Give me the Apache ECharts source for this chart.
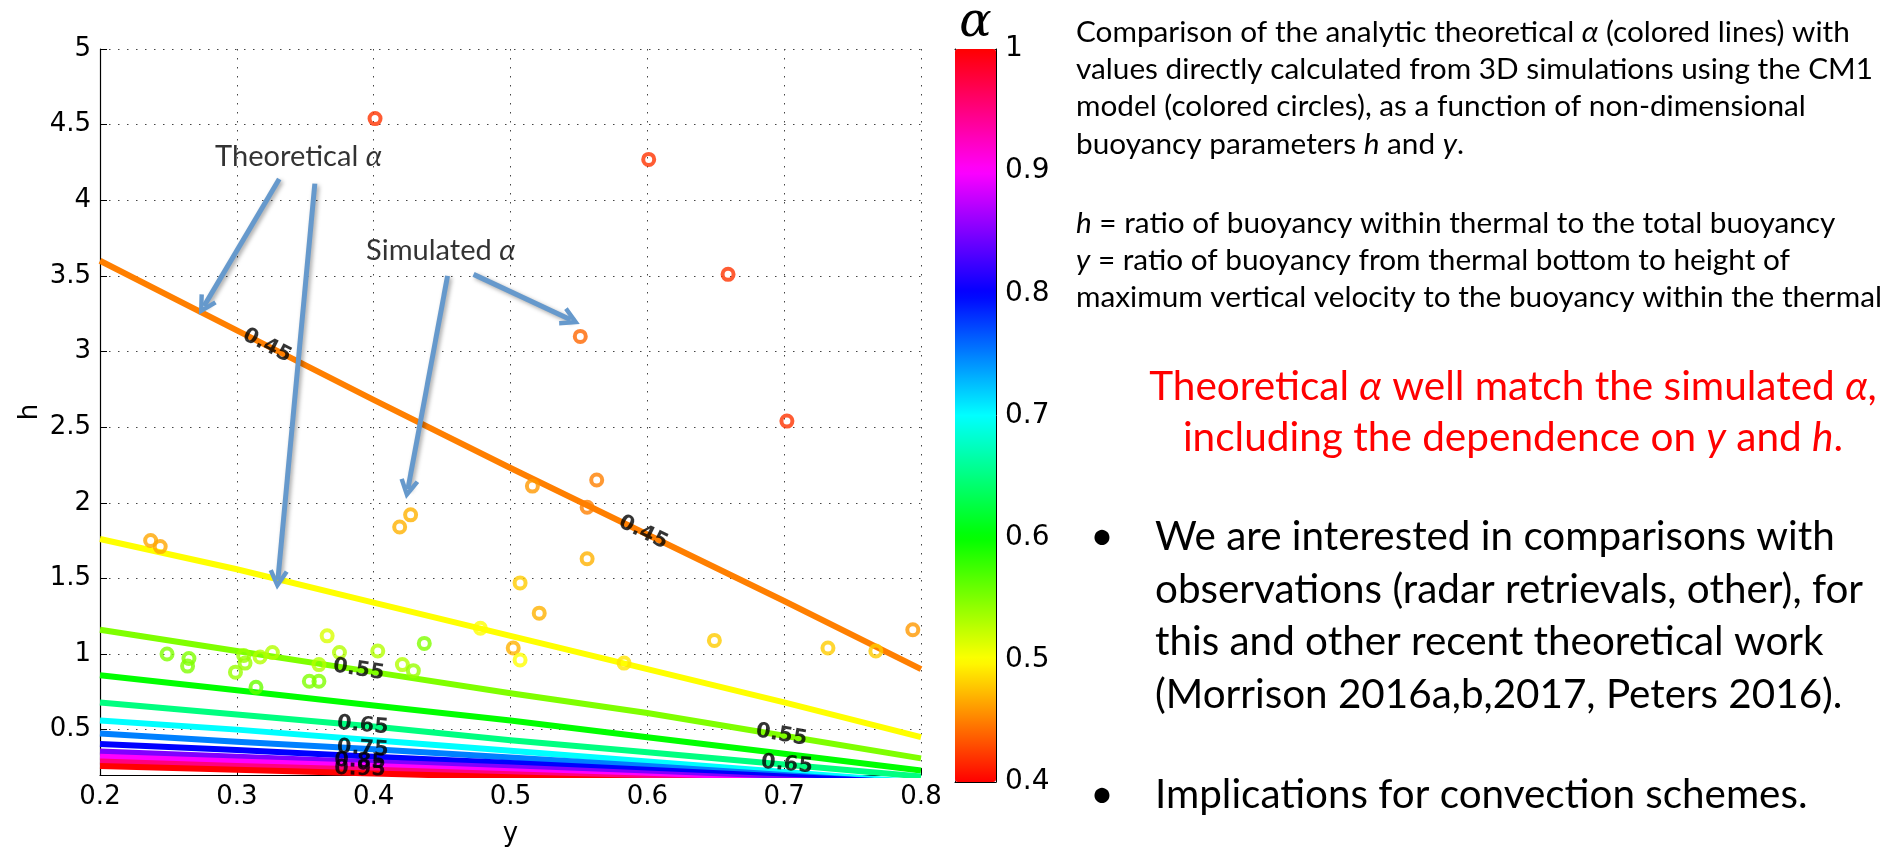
<!DOCTYPE html>
<html>
<head>
<meta charset="utf-8">
<script src="https://cdn.jsdelivr.net/npm/echarts@6/dist/echarts.min.js"></script>
<style>
html,body{margin:0;padding:0;background:#ffffff;}
#chart{width:1895px;height:852px;}
</style>
</head>
<body>
<div id="chart"></div>
<script>
// ---------------- DATA ----------------
// axis ticks
const xTicks = [0.2, 0.3, 0.4, 0.5, 0.6, 0.7, 0.8];
const colorbarTicks = [0.4, 0.5, 0.6, 0.7, 0.8, 0.9, 1];

// simulated alpha (CM1 3D simulations): y, h, alpha
const simY = [0.401, 0.601, 0.659, 0.702, 0.551,
  0.237, 0.244, 0.419, 0.427, 0.516, 0.556, 0.563, 0.556, 0.507, 0.521,
  0.478, 0.502, 0.507, 0.583, 0.649, 0.732, 0.767, 0.794,
  0.366, 0.375, 0.249, 0.265, 0.264, 0.299, 0.305, 0.306, 0.317, 0.326,
  0.314, 0.353, 0.360, 0.360, 0.403, 0.421, 0.429, 0.437];
const simH = [4.54, 4.27, 3.51, 2.54, 3.10,
  1.75, 1.71, 1.84, 1.92, 2.11, 1.97, 2.15, 1.63, 1.47, 1.27,
  1.17, 1.04, 0.96, 0.94, 1.09, 1.04, 1.02, 1.16,
  1.12, 1.01, 1.00, 0.97, 0.92, 0.88, 0.99, 0.94, 0.98, 1.01,
  0.78, 0.82, 0.82, 0.93, 1.02, 0.93, 0.89, 1.07];
const simAlpha = [0.42, 0.42, 0.42, 0.42, 0.44,
  0.465, 0.465, 0.47, 0.47, 0.46, 0.45, 0.45, 0.47, 0.48, 0.47,
  0.50, 0.47, 0.50, 0.49, 0.48, 0.48, 0.48, 0.46,
  0.515, 0.53, 0.55, 0.55, 0.55, 0.54, 0.54, 0.54, 0.53, 0.53,
  0.56, 0.55, 0.55, 0.53, 0.53, 0.53, 0.54, 0.55];

// theoretical alpha contours: h along y for each alpha level
const contourY = [0.2, 0.3, 0.4, 0.5, 0.6, 0.7, 0.8];
const contourLevels = [0.45, 0.5, 0.55, 0.6, 0.65, 0.7, 0.75, 0.8, 0.85, 0.9, 0.95, 1.0];
const h045 = [3.60, 3.14, 2.68, 2.23, 1.79, 1.35, 0.90];
const h050 = [1.76, 1.56, 1.34, 1.12, 0.90, 0.68, 0.45];
const h055 = [1.16, 1.02, 0.88, 0.74, 0.61, 0.46, 0.31];
const h060 = [0.86, 0.76, 0.66, 0.56, 0.45, 0.34, 0.23];
const h065 = [0.68, 0.60, 0.52, 0.43, 0.35, 0.27, 0.19];
const h070 = [0.56, 0.50, 0.43, 0.36, 0.29, 0.22, 0.15];
const h075 = [0.475, 0.42, 0.37, 0.315, 0.26, 0.20, 0.14];
const h080 = [0.405, 0.365, 0.32, 0.28, 0.235, 0.19, 0.145];
const h085 = [0.355, 0.32, 0.285, 0.25, 0.21, 0.17, 0.13];
const h090 = [0.32, 0.29, 0.26, 0.225, 0.19, 0.155, 0.12];
const h095 = [0.29, 0.26, 0.235, 0.205, 0.175, 0.14, 0.11];
const h100 = [0.26, 0.235, 0.21, 0.185, 0.16, 0.13, 0.10];
const contourH = [h045, h050, h055, h060, h065, h070, h075, h080, h085, h090, h095, h100];

// inline contour labels: level and y position along the contour
const labelLevel = [0.45, 0.45, 0.55, 0.55, 0.65, 0.65, 0.75, 0.85, 0.95];
const labelY     = [0.322, 0.597, 0.389, 0.698, 0.392, 0.702, 0.392, 0.390, 0.390];

// annotation arrows (y0, h0 -> y1, h1)
const arrowFromY = [0.331, 0.357, 0.454, 0.473];
const arrowFromH = [4.14, 4.11, 3.50, 3.51];
const arrowToY   = [0.276, 0.330, 0.425, 0.544];
const arrowToH   = [3.30, 1.49, 2.09, 3.21];
const annText = ['Theoretical {a|α}', 'Simulated {a|α}'];
const annY = [0.345, 0.449];
const annH = [4.29, 3.67];

// slide text
const infoText = [
  'Comparison of the analytic theoretical {i|α} (colored lines) with',
  'values directly calculated from 3D simulations using the CM1',
  'model (colored circles), as a function of non-dimensional',
  'buoyancy parameters {i|h} and {i|y}.',
  '{i|h} = ratio of buoyancy within thermal to the total buoyancy',
  '{i|y} = ratio of buoyancy from thermal bottom to height of',
  'maximum vertical velocity to the buoyancy within the thermal'
];
const claimText = [
  'Theoretical {i|α} well match the simulated {i|α},',
  'including the dependence on {i|y} and {i|h}.'
];
const bulletText = [
  'We are interested in comparisons with',
  'observations (radar retrievals, other), for',
  'this and other recent theoretical work',
  '(Morrison 2016a,b,2017, Peters 2016).',
  'Implications for convection schemes.'
];

// ---------------- LAYOUT / STYLE ----------------
const G = {left: 100, top: 49, width: 821, height: 733};
const CB = {left: 955, top: 49, width: 41, height: 733};
const AXIS_FONT = 'DejaVu Sans';
const SLIDE_FONT = 'Lato';
const colormapStops = ['#ff0000', '#ffff00', '#00ff00', '#00ffff', '#0000ff', '#ff00ff', '#ff0000'];
function alphaColor(a) { return echarts.color.lerp((a - 0.4) / 0.6, colormapStops); }

const mctx = document.createElement('canvas').getContext('2d');
function plain(s) { return s.replace(/\{i\|([^}]*)\}/g, '$1').replace(/\{a\|([^}]*)\}/g, '$1'); }
function fitSize(text, target, weight) {
  mctx.font = (weight || 'normal') + ' 100px ' + SLIDE_FONT;
  return 100 * target / mctx.measureText(plain(text)).width;
}
const fsInfo = fitSize(infoText[6], 806);
const fsClaim = fitSize(claimText[0], 731);
const fsBullet = fitSize(bulletText[0], 680);
const fsAnn = fitSize('Theoretical α', 168);

function interp(xs, ys, x) {
  for (let i = 0; i < xs.length - 1; i++) {
    if (x >= xs[i] && x <= xs[i + 1]) {
      const t = (x - xs[i]) / (xs[i + 1] - xs[i]);
      return {v: ys[i] + t * (ys[i + 1] - ys[i]), s: (ys[i + 1] - ys[i]) / (xs[i + 1] - xs[i])};
    }
  }
  return {v: ys[ys.length - 1], s: 0};
}
const pxPerX = G.width / (0.8 - 0.2);
const pxPerH = G.height / (5 - 0.2);

// ---------------- SERIES ----------------
const series = [];
contourLevels.forEach((lev, k) => {
  series.push({
    type: 'line', name: 'alpha ' + lev, xAxisIndex: 0, yAxisIndex: 0,
    data: contourY.map((x, i) => [x, contourH[k][i]]),
    showSymbol: false, symbol: 'none', silent: true, clip: true, z: 2,
    lineStyle: {color: alphaColor(lev), width: 6, cap: 'butt', join: 'round'}
  });
});

series.push({
  type: 'scatter', name: 'simulated', xAxisIndex: 0, yAxisIndex: 0, z: 4, silent: true,
  symbol: 'circle', symbolSize: 11,
  data: simY.map((x, i) => ({
    value: [x, simH[i], simAlpha[i]],
    itemStyle: {color: 'rgba(0,0,0,0)', borderColor: alphaColor(simAlpha[i]), borderWidth: 4}
  }))
});

series.push({
  type: 'scatter', name: 'contour labels', xAxisIndex: 0, yAxisIndex: 0, z: 5, silent: true,
  symbolSize: 1, itemStyle: {color: 'rgba(0,0,0,0)'},
  data: labelLevel.map((lev, i) => {
    const k = contourLevels.indexOf(lev);
    const r = interp(contourY, contourH[k], labelY[i]);
    const rot = Math.atan(r.s * pxPerH / pxPerX) * 180 / Math.PI;
    return {
      name: String(lev), value: [labelY[i], r.v],
      label: {show: true, position: 'inside', formatter: '{b}', rotate: rot,
        fontFamily: AXIS_FONT, fontWeight: 'bold', fontSize: 21, color: '#000'}
    };
  })
});

series.push({
  type: 'lines', coordinateSystem: 'cartesian2d', xAxisIndex: 0, yAxisIndex: 0, z: 8, silent: true,
  symbol: ['none', 'path://M0,18 L10,0 L20,18 L16,20 L10,9 L4,20 Z'], symbolSize: [22, 20],
  lineStyle: {color: '#6699cc', width: 5, opacity: 1, curveness: 0,
    shadowBlur: 4, shadowColor: 'rgba(0,0,0,0.35)', shadowOffsetX: 2, shadowOffsetY: 2},
  data: arrowFromY.map((x, i) => ({coords: [[x, arrowFromH[i]], [arrowToY[i], arrowToH[i]]]}))
});

series.push({
  type: 'scatter', name: 'annotations', xAxisIndex: 0, yAxisIndex: 0, z: 9, silent: true,
  symbolSize: 1, itemStyle: {color: 'rgba(0,0,0,0)'},
  data: annText.map((t, i) => ({name: t, value: [annY[i], annH[i]]})),
  label: {show: true, position: 'inside', formatter: '{b}',
    fontFamily: SLIDE_FONT, fontSize: fsAnn, color: '#000',
    rich: {a: {fontFamily: SLIDE_FONT, fontSize: fsAnn, fontStyle: 'italic', color: '#000'}}}
});

// ---------------- GRAPHIC TEXT ----------------
const graphic = [];
function richStyle(fs, color) {
  return {i: {fontFamily: SLIDE_FONT, fontSize: fs, fontStyle: 'italic', fill: color}};
}
const infoYpos = [32, 69, 106, 144, 223, 260, 297];
infoText.forEach((t, i) => graphic.push({
  type: 'text', x: 1076, y: infoYpos[i], silent: true,
  style: {text: t, fontFamily: SLIDE_FONT, fontSize: fsInfo, fill: '#000', align: 'left', verticalAlign: 'middle', rich: richStyle(fsInfo, '#000')}
}));
const claimYpos = [387, 438];
claimText.forEach((t, i) => graphic.push({
  type: 'text', x: 1513, y: claimYpos[i], silent: true,
  style: {text: t, fontFamily: SLIDE_FONT, fontSize: fsClaim, fill: '#ff0000', align: 'center', verticalAlign: 'middle', rich: richStyle(fsClaim, '#ff0000')}
}));
const bulletYpos = [537, 590, 642, 695, 795];
bulletText.forEach((t, i) => graphic.push({
  type: 'text', x: 1155, y: bulletYpos[i], silent: true,
  style: {text: t, fontFamily: SLIDE_FONT, fontSize: fsBullet, fill: '#000', align: 'left', verticalAlign: 'middle'}
}));
[537, 795].forEach(y => graphic.push({
  type: 'text', x: 1102, y: y, silent: true,
  style: {text: '•', fontFamily: SLIDE_FONT, fontSize: fsBullet, fill: '#000', align: 'center', verticalAlign: 'middle'}
}));
graphic.push({
  type: 'text', x: CB.left + CB.width / 2, y: 24, silent: true,
  style: {text: 'α', fontFamily: 'DejaVu Serif', fontStyle: 'italic', fontSize: 48, fill: '#000', align: 'center', verticalAlign: 'middle'}
});

// ---------------- OPTION ----------------
const tickLabel = {fontFamily: AXIS_FONT, fontSize: 26, color: '#000'};
const dotted = {color: '#444', width: 1, type: [1.5, 7.5]};
const option = {
  animation: false,
  backgroundColor: '#ffffff',
  grid: [
    {left: G.left, top: G.top, width: G.width, height: G.height, containLabel: false},
    {left: CB.left, top: CB.top, width: CB.width, height: CB.height, containLabel: false}
  ],
  xAxis: [
    {gridIndex: 0, type: 'value', min: xTicks[0], max: xTicks[xTicks.length - 1], interval: 0.1,
      name: 'y', nameLocation: 'middle', nameGap: 46,
      nameTextStyle: {fontFamily: AXIS_FONT, fontSize: 26, color: '#000'},
      axisLine: {show: true, onZero: false, lineStyle: {color: '#000', width: 1.2}},
      axisTick: {show: true, inside: true, length: 7, lineStyle: {color: '#000'}},
      axisLabel: Object.assign({margin: 9, formatter: v => String(+v.toFixed(1))}, tickLabel),
      splitLine: {show: true, lineStyle: dotted}},
    {gridIndex: 1, type: 'value', min: 0, max: 1, position: 'bottom',
      axisLine: {show: true, onZero: false, lineStyle: {color: '#000', width: 1}},
      axisTick: {show: false}, axisLabel: {show: false}, splitLine: {show: false}},
    {gridIndex: 1, type: 'value', min: 0, max: 1, position: 'top',
      axisLine: {show: true, onZero: false, lineStyle: {color: '#000', width: 1}},
      axisTick: {show: false}, axisLabel: {show: false}, splitLine: {show: false}}
  ],
  yAxis: [
    {gridIndex: 0, type: 'value', min: 0.2, max: 5, splitNumber: 10,
      name: 'h', nameLocation: 'middle', nameGap: 57,
      nameTextStyle: {fontFamily: AXIS_FONT, fontSize: 26, color: '#000'},
      axisLine: {show: true, onZero: false, lineStyle: {color: '#000', width: 1.2}},
      axisTick: {show: true, inside: true, length: 7, lineStyle: {color: '#000'}},
      axisLabel: Object.assign({margin: 9, showMinLabel: false}, tickLabel),
      splitLine: {show: true, lineStyle: dotted}},
    {gridIndex: 1, type: 'value', min: 0.4, max: 1, interval: 0.1, position: 'left',
      axisLine: {show: true, onZero: false, lineStyle: {color: '#000', width: 1}},
      axisTick: {show: true, inside: true, length: 5, lineStyle: {color: '#000'}},
      axisLabel: {show: false}, splitLine: {show: false}},
    {gridIndex: 1, type: 'value', min: 0.4, max: 1, interval: 0.1, position: 'right',
      axisLine: {show: true, onZero: false, lineStyle: {color: '#000', width: 1}},
      axisTick: {show: true, inside: true, length: 5, lineStyle: {color: '#000'}},
      axisLabel: {fontFamily: AXIS_FONT, fontSize: 28, color: '#000', margin: 9,
        formatter: v => String(+v.toFixed(1))},
      splitLine: {show: false}}
  ],
  visualMap: [{
    type: 'continuous', min: colorbarTicks[0], max: colorbarTicks[colorbarTicks.length - 1],
    seriesIndex: [], calculable: false, show: true, orient: 'vertical',
    left: CB.left, top: CB.top, itemWidth: CB.width, itemHeight: CB.height,
    padding: 0, text: null, showLabel: false, hoverLink: false,
    inRange: {color: colormapStops}
  }],
  series: series,
  graphic: graphic
};
const chart = echarts.init(document.getElementById('chart'), null, {renderer: 'canvas', width: 1895, height: 852});
chart.setOption(option);
</script>
</body>
</html>
